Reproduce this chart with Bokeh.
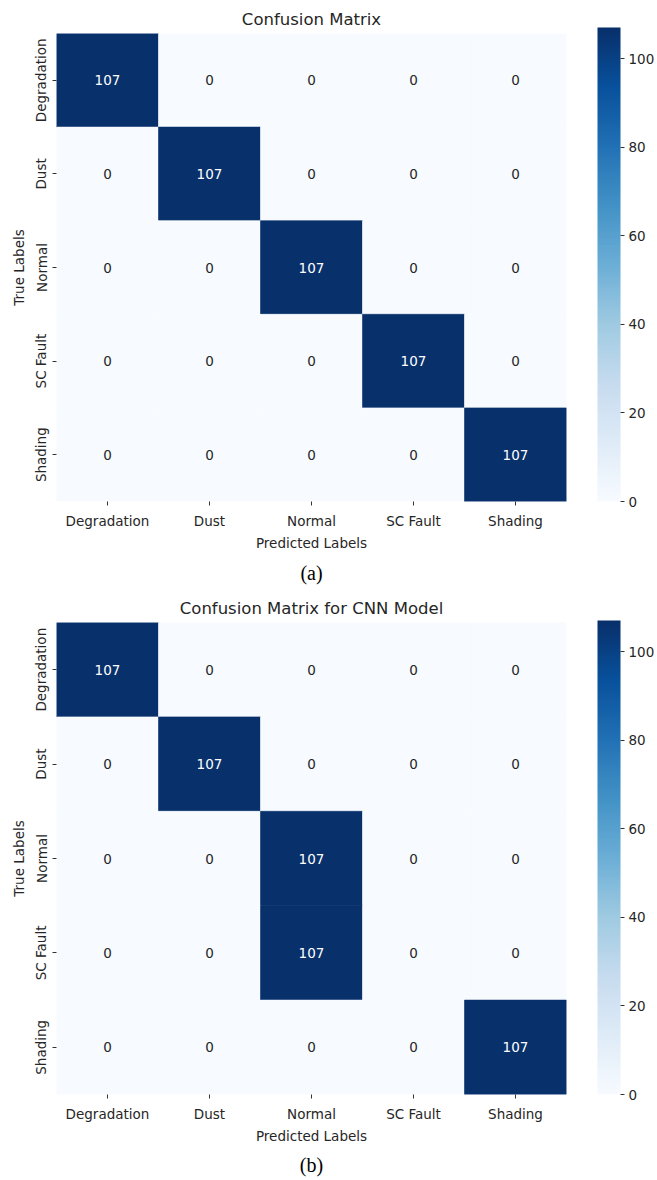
from bokeh.plotting import figure
from bokeh.layouts import column
from bokeh.models import (ColumnDataSource, LinearColorMapper, ColorBar,
                          FixedTicker, Title, FactorRange)
from bokeh.core.properties import value
from bokeh.palettes import Blues256
from bokeh.embed import file_html
from bokeh.resources import INLINE

# Class names (rows = true labels, columns = predicted labels)
classes = ["Degradation", "Dust", "Normal", "SC Fault", "Shading"]

# Confusion matrix counts, panel (a)
cm_a = [
    [107, 0, 0, 0, 0],
    [0, 107, 0, 0, 0],
    [0, 0, 107, 0, 0],
    [0, 0, 0, 107, 0],
    [0, 0, 0, 0, 107],
]

# Confusion matrix counts, panel (b): CNN model
cm_b = [
    [107, 0, 0, 0, 0],
    [0, 107, 0, 0, 0],
    [0, 0, 107, 0, 0],
    [0, 0, 107, 0, 0],
    [0, 0, 0, 0, 107],
]

titles = ["Confusion Matrix", "Confusion Matrix for CNN Model"]
captions = ["(a)", "(b)"]
cbar_ticks = [0, 20, 40, 60, 80, 100]

FONT = "DejaVu Sans"
TXT = "#262626"
palette = list(reversed(Blues256))

FRAME_W = 510
FRAME_H = 474


def heatmap(cm, title, caption, height, vmax, cap_standoff):
    xs, ys, vals, labels, tcolors = [], [], [], [], []
    for i, true_lab in enumerate(classes):
        for j, pred_lab in enumerate(classes):
            v = cm[i][j]
            xs.append(pred_lab)
            ys.append(true_lab)
            vals.append(v)
            labels.append(str(v))
            tcolors.append("#ffffff" if v > vmax / 2 else TXT)
    src = ColumnDataSource(dict(x=xs, y=ys, v=vals, label=labels, tc=tcolors))

    mapper = LinearColorMapper(palette=palette, low=0, high=vmax)

    p = figure(width=657, height=height,
               x_range=FactorRange(*classes),
               y_range=FactorRange(*reversed(classes)),
               output_backend="svg", toolbar_location=None,
               min_border_left=56, min_border_right=657 - 56 - FRAME_W,
               min_border_top=33, min_border_bottom=height - 33 - FRAME_H)
    p.title.text = title
    p.title.align = "center"
    p.title.text_font = FONT
    p.title.text_font_size = "16.5px"
    p.title.text_font_style = "normal"
    p.title.text_color = TXT
    p.title.standoff = 10

    # cells: outline in the fill colour so that equal neighbours merge
    p.rect(x="x", y="y", width=1, height=1, source=src,
           fill_color={"field": "v", "transform": mapper},
           line_color={"field": "v", "transform": mapper}, line_width=0.6)
    p.text(x="x", y="y", text="label", source=src, text_color="tc",
           text_align="center", text_baseline="middle",
           text_font=value(FONT), text_font_size="13.5px")

    p.xgrid.visible = False
    p.ygrid.visible = False
    p.outline_line_color = None
    p.background_fill_color = "white"

    for ax in (p.xaxis, p.yaxis):
        ax.axis_line_color = None
        ax.major_tick_line_color = "#333333"
        ax.major_tick_out = 4
        ax.major_tick_in = 0
        ax.minor_tick_line_color = None
        ax.major_label_text_font = FONT
        ax.major_label_text_font_size = "13.5px"
        ax.major_label_text_color = TXT
        ax.axis_label_text_font = FONT
        ax.axis_label_text_font_size = "13.5px"
        ax.axis_label_text_font_style = "normal"
        ax.axis_label_text_color = TXT
        ax.major_label_standoff = 4
        ax.axis_label_standoff = 4
    p.xaxis.major_label_standoff = 7
    p.xaxis.axis_label_standoff = 3
    p.yaxis.major_label_standoff = 3
    p.xaxis.axis_label = "Predicted Labels"
    p.yaxis.axis_label = "True Labels"
    p.yaxis.major_label_orientation = "vertical"

    # colour bar sits to the right of the frame, separated by a gap
    cb = ColorBar(color_mapper=mapper, ticker=FixedTicker(ticks=cbar_ticks),
                  location=(FRAME_W + 31, 0), width=23, height=FRAME_H,
                  padding=0, margin=0, bar_line_color=None,
                  major_tick_in=0, major_tick_out=4,
                  major_tick_line_color="#333333",
                  label_standoff=4,
                  major_label_text_font=FONT,
                  major_label_text_font_size="13.5px",
                  major_label_text_color=TXT,
                  background_fill_color=None, border_line_color=None)
    p.add_layout(cb)

    cap = Title(text=caption, align="center", text_font="Liberation Serif",
                text_font_size="20px", text_font_style="normal",
                text_color="#000000", standoff=cap_standoff)
    p.add_layout(cap, "below")
    return p


pa = heatmap(cm_a, titles[0], captions[0], 589, 107, 12)
pb = heatmap(cm_b, titles[1], captions[1], 591, 107, 10)

layout = column(pa, pb, spacing=0)
open("out.html", "w").write(file_html(layout, INLINE))
